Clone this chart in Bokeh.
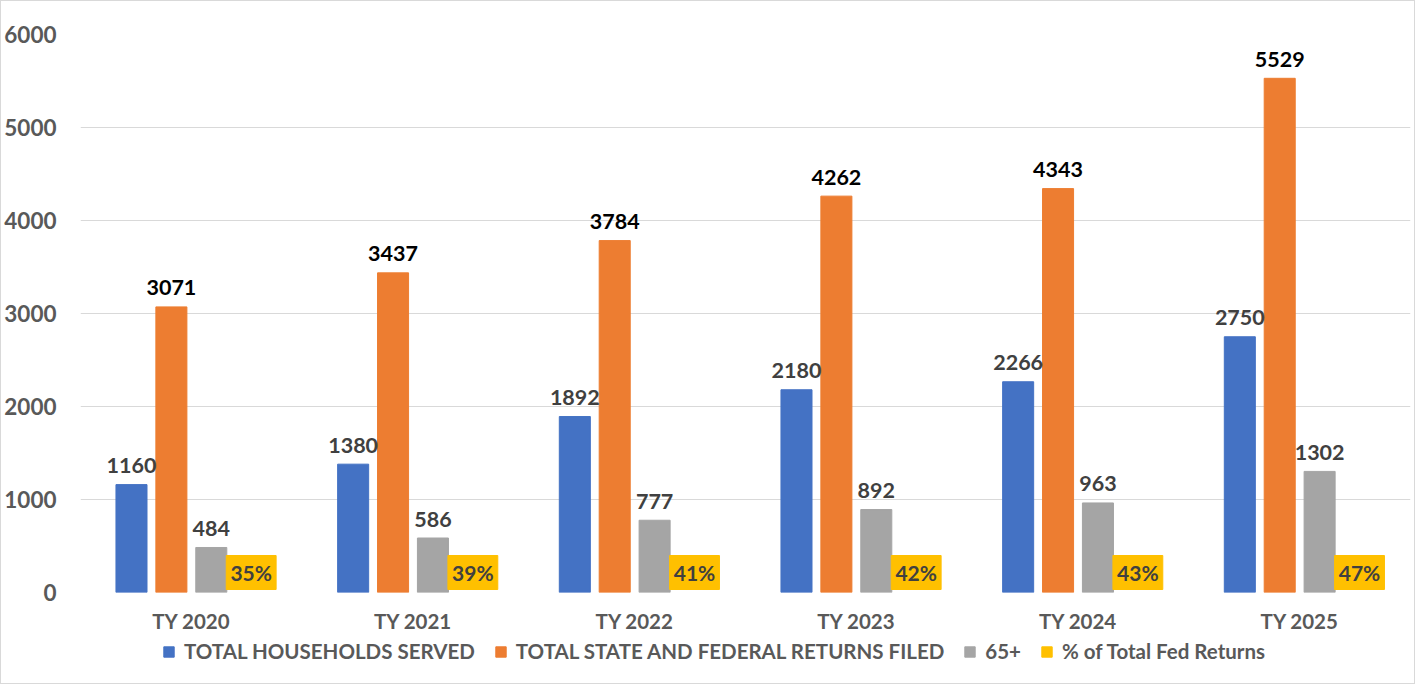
from bokeh.plotting import figure
from bokeh.layouts import column
from bokeh.models import (ColumnDataSource, FactorRange, Range1d, Legend, LegendItem,
                          SingleIntervalTicker, NumeralTickFormatter)
from bokeh.transform import dodge
from bokeh.core.properties import value
from bokeh.embed import file_html
from bokeh.resources import INLINE

years = ["TY 2020", "TY 2021", "TY 2022", "TY 2023", "TY 2024", "TY 2025"]
households = [1160, 1380, 1892, 2180, 2266, 2750]
returns_filed = [3071, 3437, 3784, 4262, 4343, 5529]
seniors = [484, 586, 777, 892, 963, 1302]
pct_fed = [35, 39, 41, 42, 43, 47]
series_names = ["TOTAL HOUSEHOLDS SERVED", "TOTAL STATE AND FEDERAL RETURNS FILED",
                "65+", "% of Total Fed Returns"]

BLUE, ORANGE, GRAY, YELLOW = "#4472C4", "#ED7D31", "#A5A5A5", "#FFC000"
COLORS = [BLUE, ORANGE, GRAY, YELLOW]
FONT = "Lato"

src = ColumnDataSource(dict(
    x=years, hh=households, rf=returns_filed, sr=seniors,
    hh_l=[str(v) for v in households], rf_l=[str(v) for v in returns_filed],
    sr_l=[str(v) for v in seniors], pct_l=[f"{v}%" for v in pct_fed],
    pct_y=[215] * len(years),
))

W_TOTAL = 1413
p = figure(width=W_TOTAL, height=636, output_backend="svg", toolbar_location=None,
           x_range=FactorRange(factors=years, range_padding=0),
           y_range=Range1d(0, 6000),
           min_border_left=60, min_border_right=4, min_border_top=33, min_border_bottom=45)
p.outline_line_color = None
p.xgrid.grid_line_color = None
p.ygrid.grid_line_color = "#D9D9D9"
p.ygrid.grid_line_width = 1

W = 0.14
p.vbar(x=dodge("x", -0.27, range=p.x_range), top="hh", width=W, source=src, color=BLUE)
p.vbar(x=dodge("x", -0.09, range=p.x_range), top="rf", width=W, source=src, color=ORANGE)
p.vbar(x=dodge("x", 0.09, range=p.x_range), top="sr", width=W, source=src, color=GRAY)
p.rect(x=dodge("x", 0.27, range=p.x_range), y="pct_y", width=0.225, height=34,
       height_units="screen", source=src, color=YELLOW)

lab = dict(text_font=value(FONT), text_font_style="bold", text_font_size="21.5px",
           text_align="center", text_baseline="alphabetic", y_offset=-19, source=src)
p.text(x=dodge("x", -0.27, range=p.x_range), y="hh", text="hh_l", text_color="#404040", **lab)
p.text(x=dodge("x", -0.09, range=p.x_range), y="rf", text="rf_l", text_color="#000000", **lab)
p.text(x=dodge("x", 0.09, range=p.x_range), y="sr", text="sr_l", text_color="#404040", **lab)
p.text(x=dodge("x", 0.27, range=p.x_range), y="pct_y", text="pct_l", text_color="#404040",
       text_font=value(FONT), text_font_style="bold", text_font_size="21px",
       text_align="center", text_baseline="middle", source=src)

p.yaxis.ticker = SingleIntervalTicker(interval=1000)
p.yaxis.formatter = NumeralTickFormatter(format="0")
for ax in (p.xaxis[0], p.yaxis[0]):
    ax.axis_line_color = None
    ax.major_tick_line_color = None
    ax.minor_tick_line_color = None
    ax.major_label_text_font = FONT
    ax.major_label_text_font_style = "bold"
    ax.major_label_text_color = "#595959"
p.yaxis.major_label_text_font_size = "22.5px"
p.yaxis.major_label_standoff = 18
p.xaxis.major_label_text_font_size = "20.5px"
p.xaxis.major_label_standoff = 10

# legend strip
lg = figure(width=W_TOTAL, height=46, output_backend="svg", toolbar_location=None,
            x_range=Range1d(0, 1), y_range=Range1d(0, 1),
            x_axis_type=None, y_axis_type=None, min_border=0)
lg.outline_line_color = None
lg.xgrid.grid_line_color = None
lg.ygrid.grid_line_color = None
items = []
for name, col in zip(series_names, COLORS):
    r = lg.vbar(x=[-10], top=[0], width=0.1, color=col)
    items.append(LegendItem(label=name, renderers=[r]))
legend = Legend(items=items, orientation="horizontal", location=(82, 20),
                label_text_font=FONT, label_text_font_size="20.5px",
                label_text_font_style="bold",
                label_text_color="#595959", glyph_width=13, glyph_height=13,
                spacing=19, label_standoff=9, border_line_color=None,
                background_fill_alpha=0, padding=2, margin=0)
lg.add_layout(legend, "center")

layout = column(p, lg, spacing=0)
layout.styles = {"border": "1px solid #D9D9D9"}

open("out.html", "w").write(file_html(layout, INLINE))
